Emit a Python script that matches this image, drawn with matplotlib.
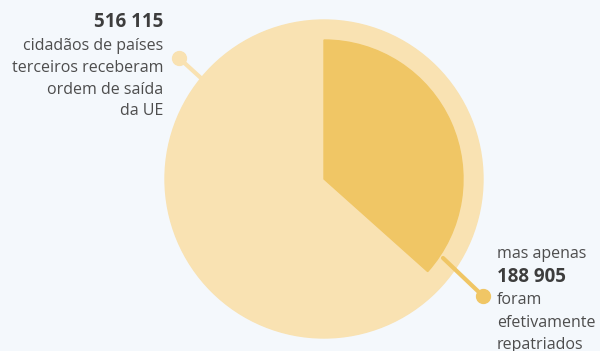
import matplotlib.pyplot as plt
from matplotlib.patches import Circle, Wedge

# values shown in the chart
total_ordered = 516115
total_returned = 188905
left_lines = ["516 115", "cidadãos de países", "terceiros receberam", "ordem de saída", "da UE"]
right_lines = ["mas apenas", "188 905", "foram", "efetivamente", "repatriados"]

BG = "#f4f8fc"
PALE = "#f9e2b2"
GOLD = "#f0c665"
TEXT = "#4d4d4d"
H = 351

plt.rcParams["font.family"] = ["Open Sans", "DejaVu Sans"]

fig = plt.figure(figsize=(6, 3.51), dpi=100, facecolor=BG)
ax = fig.add_axes([0, 0, 1, 1])
ax.set_xlim(0, 600)
ax.set_ylim(0, H)
ax.set_aspect("equal")
ax.axis("off")

cx, cy = 324, H - 179
ax.add_patch(Circle((cx, cy), 159, color=PALE, zorder=1))

share = total_returned / total_ordered
ax.add_patch(Wedge((cx, cy), 139, 90 - 360 * share, 90, color=GOLD, zorder=2))

# leader lines with dots
ax.plot([179, 202], [H - 58, H - 79], color=PALE, lw=3, zorder=0, solid_capstyle="round")
ax.plot([179], [H - 58], "o", color=PALE, ms=10, zorder=3)
ax.plot([443, 483], [H - 258, H - 296], color=GOLD, lw=3, zorder=3, solid_capstyle="round")
ax.plot([483], [H - 296], "o", color=GOLD, ms=10, zorder=3)

left_base = [27, 50, 72, 94, 115]
for i, (txt, y) in enumerate(zip(left_lines, left_base)):
    ax.text(163, H - y, txt, ha="right", va="baseline",
            fontsize=13.5 if i == 0 else 11.5,
            color="#3d3d3d" if i == 0 else TEXT, fontweight="bold" if i == 0 else "normal")

right_base = [258, 282, 304, 327, 349]
for i, (txt, y) in enumerate(zip(right_lines, right_base)):
    ax.text(497, H - y, txt, ha="left", va="baseline",
            fontsize=13.5 if i == 1 else 11.5,
            color="#3d3d3d" if i == 1 else TEXT, fontweight="bold" if i == 1 else "normal")

fig.savefig("out.png", dpi=100, facecolor=BG)
